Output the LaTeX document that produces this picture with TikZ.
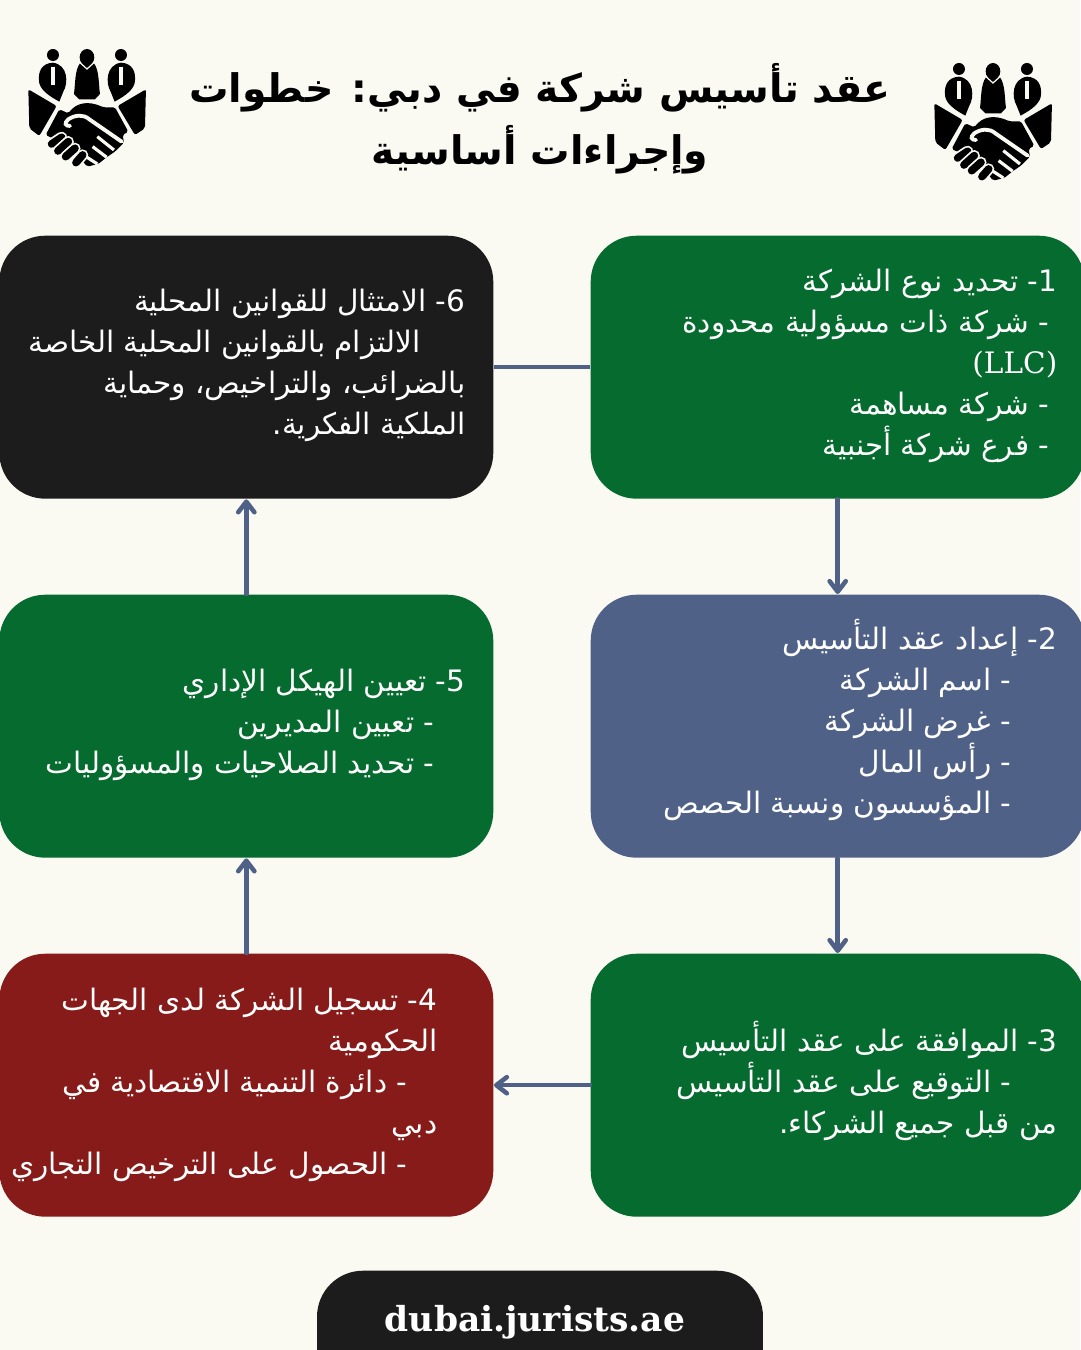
\documentclass[tikz,border=0pt]{standalone}
\usepackage{fontspec}
\setmainfont{DejaVu Sans}
\newfontfamily\arabicfont[Script=Arabic]{DejaVu Sans}
\newfontfamily\latinfont{DejaVu Serif}
\TeXXeTstate=1
\usetikzlibrary{arrows.meta, positioning}
\definecolor{paper}{HTML}{FBFAF2}
\definecolor{boxgreen}{HTML}{056B2E}
\definecolor{boxblue}{HTML}{4F6187}
\definecolor{boxred}{HTML}{861B19}
\definecolor{boxblack}{HTML}{1C1C1C}
\tikzset{
  stepbox/.style={rounded corners=4.6mm, minimum width=4.94cm, minimum height=2.63cm, inner sep=0pt},
  steptext/.style={text=white, font=\arabicfont\fontsize{8.4}{11.67}\selectfont, align=right, anchor=north east, inner sep=0pt},
  joinline/.style={draw=boxblue, line width=1.3pt},
  joinarrow/.style={joinline, line cap=round, {Straight Barb[length=3pt,width=4.6pt,round]}-},
}
\newcommand{\gap}[1]{\rule{#1}{0pt}}
\newcommand{\handshake}{%
  % people
  \fill (159,105) circle (18);
  \fill (363,105) circle (18);
  \fill (261,112) ellipse (22 and 25);
  \fill (159,128) .. controls (125,130) and (112,155) .. (118,190) .. controls (125,215) and (155,232) .. (178,245) -- (190,215) .. controls (205,190) and (205,135) .. (159,128) -- cycle;
  \fill (363,128) .. controls (397,130) and (410,155) .. (404,190) .. controls (397,215) and (367,232) .. (344,245) -- (332,215) .. controls (317,190) and (317,135) .. (363,128) -- cycle;
  \fill (240,130) -- (282,130) .. controls (298,150) and (296,195) .. (300,222) -- (285,238) -- (238,238) -- (222,222) .. controls (226,195) and (224,150) .. (240,130) -- cycle;
  \draw[paper, line width=0.9pt] (159,140) -- (159,195);
  \draw[paper, line width=0.9pt] (363,140) -- (363,195);
  \draw[paper, line width=0.35pt] (240,128) -- (261,147) -- (282,128);
  % cuffs
  \fill[rounded corners=0.6pt] (85,208) -- (170,258) -- (118,348) -- (88,325) -- cycle;
  \fill[rounded corners=0.6pt] (438,208) -- (353,258) -- (405,345) -- (435,325) -- cycle;
  % hands
  \fill[rounded corners=0.5pt] (137,345) -- (178,268) -- (205,280) .. controls (228,250) and (262,240) .. (310,262) -- (345,262) -- (385,335) -- (368,345) -- (372,368) -- (345,395) -- (320,412) -- (295,432) -- (262,440) -- (240,415) -- (190,370) -- cycle;
  \draw[paper, line width=1.1pt, line cap=round] (210,318) .. controls (195,318) and (192,310) .. (205,298) .. controls (225,285) and (250,282) .. (268,298) -- (365,365);
  \draw[paper, line width=0.9pt] (292,350) -- (342,390);
  \draw[paper, line width=0.9pt] (278,380) -- (320,412);
  \draw[paper, line width=0.9pt] (255,408) -- (292,432);
  % fingers
  \foreach \fa/\fb/\fc/\fd in {155/372/185/352, 174/393/205/365, 197/410/225/385, 228/428/248/405}{
    \draw[paper, line width=3.2pt, line cap=round] (\fa,\fb) -- (\fc,\fd);
    \draw[line width=2.2pt, line cap=round] (\fa,\fb) -- (\fc,\fd);
  }
}
\begin{document}
\begin{tikzpicture}[x=0.1cm,y=-0.1cm]
  \useasboundingbox (0,0) rectangle (108,135);
  \fill[paper] (0,0) rectangle (108,135);

  % title
  \node[inner sep=0pt, align=center, font=\arabicfont\bfseries\fontsize{11.2}{17.6}\selectfont] (title) at (54,11.9)
    {\beginR عقد تأسيس شركة في دبي: خطوات\endR\\ \beginR وإجراءات أساسية\endR};

  % logos
  \begin{scope}[shift={(0,2)}, x=0.03333mm, y=-0.03333mm]
    \handshake
  \end{scope}
  \begin{scope}[shift={(90.6,3.4)}, x=0.03333mm, y=-0.03333mm]
    \handshake
  \end{scope}

  % boxes
  \node[stepbox, fill=boxgreen, anchor=north west] (sone) at (59,23.5) {};
  \node[stepbox, fill=boxblue, anchor=north west] (stwo) at (59,59.4) {};
  \node[stepbox, fill=boxgreen, anchor=north west] (sthree) at (59,95.3) {};
  \node[stepbox, fill=boxred, anchor=north east] (sfour) at (49.4,95.3) {};
  \node[stepbox, fill=boxgreen, anchor=north east] (sfive) at (49.4,59.4) {};
  \node[stepbox, fill=boxblack, anchor=north east] (ssix) at (49.4,23.5) {};

  % connectors
  \draw[joinline] (ssix) -- (sone);
  \draw[joinarrow] (stwo) -- (sone);
  \draw[joinarrow] (sthree) -- (stwo);
  \draw[joinarrow] (sfour) -- (sthree);
  \draw[joinarrow] (sfive) -- (sfour);
  \draw[joinarrow] (ssix) -- (sfive);

  % texts
  \node[steptext] (tone) at (105.8,26.8) {\beginR 1- تحديد نوع الشركة\endR\\ \beginR - شركة ذات مسؤولية محدودة\endR\gap{0.8mm}\\ {\latinfont (LLC)}\\ \beginR - شركة مساهمة\endR\gap{0.8mm}\\ \beginR - فرع شركة أجنبية\endR\gap{0.8mm}};
  \node[steptext] (ttwo) at (105.8,61.8) {\beginR 2- إعداد عقد التأسيس\endR\\ \beginR - اسم الشركة\endR\gap{4.6mm}\\ \beginR - غرض الشركة\endR\gap{4.6mm}\\ \beginR - رأس المال\endR\gap{4.6mm}\\ \beginR - المؤسسون ونسبة الحصص\endR\gap{4.6mm}};
  \node[steptext] (tthree) at (105.8,102) {\beginR 3- الموافقة على عقد التأسيس\endR\\ \beginR - التوقيع على عقد التأسيس\endR\gap{4.6mm}\\ \beginR من قبل جميع الشركاء.\endR};
  \node[steptext] (tfour) at (43.8,98.7) {\beginR 4- تسجيل الشركة لدى الجهات\endR\\ \beginR الحكومية\endR\\ \beginR - دائرة التنمية الاقتصادية في\endR\gap{3mm}\\ \beginR دبي\endR\\ \beginR - الحصول على الترخيص التجاري\endR\gap{3mm}};
  \node[steptext] (tfive) at (46.6,66.8) {\beginR 5- تعيين الهيكل الإداري\endR\\ \beginR - تعيين المديرين\endR\gap{3.1mm}\\ \beginR - تحديد الصلاحيات والمسؤوليات\endR\gap{3.1mm}};
  \node[steptext] (tsix) at (46.6,28.8) {\beginR 6- الامتثال للقوانين المحلية\endR\\ \beginR الالتزام بالقوانين المحلية الخاصة\endR\gap{4.5mm}\\ \beginR بالضرائب، والتراخيص، وحماية\endR\\ \beginR الملكية الفكرية.\endR};

  % footer
  \begin{scope}
    \clip (0,0) rectangle (108,135);
    \node[fill=boxblack, rounded corners=4.6mm, minimum width=4.46cm, minimum height=1.6cm, inner sep=0pt, anchor=north] (footbox) at (54,127) {};
  \end{scope}
  \node[text=white, inner sep=0pt, font=\latinfont\bfseries\fontsize{9.8}{13}\selectfont] (foot) at (53.5,132.2) {dubai.jurists.ae};
\end{tikzpicture}
\end{document}
